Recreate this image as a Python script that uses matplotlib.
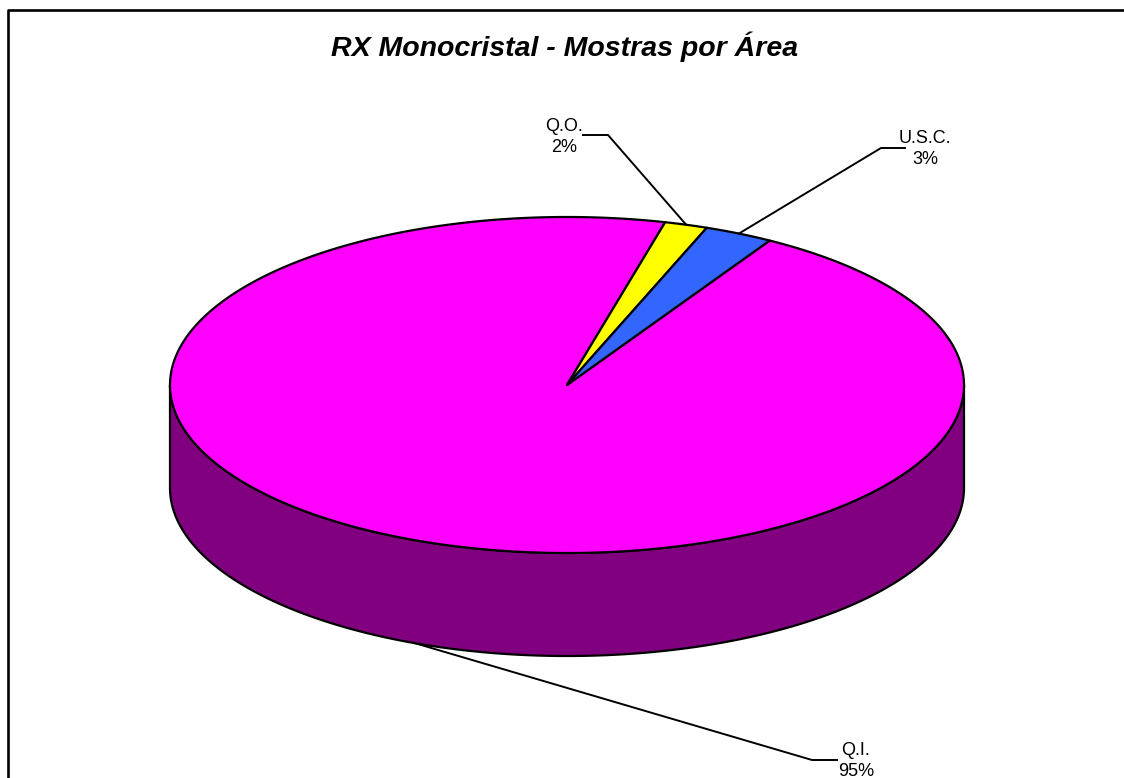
import numpy as np
import matplotlib
matplotlib.use("Agg")
import matplotlib.pyplot as plt
from matplotlib.patches import Polygon

# ---- data ----
categories = ["Q.I.", "Q.O.", "U.S.C."]
values = [95.45, 1.75, 2.8]
top_colors = ["#FF00FF", "#FFFF00", "#3366FF"]
side_colors = ["#800080", "#808000", "#1A3380"]
title = "RX Monocristal - Mostras por Área"

# ---- layout (pixel coordinates) ----
W, H = 1124, 778
cx, cy, a, b, depth = 567, 385, 397, 168, 103
start = 59.3  # first slice angle, clockwise

label_elbow = {"Q.I.": (812, 760), "Q.O.": (608, 135), "U.S.C.": (881, 148)}
label_hend = {"Q.I.": 837, "Q.O.": 583, "U.S.C.": 905}
label_text = {"Q.I.": (856, 761), "Q.O.": (564, 137), "U.S.C.": (925, 149)}

plt.rcParams['font.family'] = ['Liberation Sans', 'DejaVu Sans']

fig = plt.figure(figsize=(W / 100, H / 100), dpi=100)
ax = fig.add_axes([0, 0, 1, 1])
ax.set_xlim(0, W)
ax.set_ylim(H, 0)
ax.axis('off')


def pt(theta_deg, dz=0.0):
    t = np.radians(theta_deg)
    return cx + a * np.cos(t), cy - b * np.sin(t) + dz


def arc(t0, t1, dz=0.0, n=None):
    if n is None:
        n = max(int(abs(t1 - t0) * 2) + 2, 3)
    ts = np.linspace(t0, t1, n)
    xs, ys = pt(ts, dz)
    return np.column_stack([xs, ys])


fracs = np.array(values, dtype=float) / np.sum(values)
spans = fracs * 360.0
ends = start - np.cumsum(spans)
starts = ends + spans

lw = 1.6

# side walls (front half only)
for i in range(len(values)):
    for k in range(-2, 3):
        lo = max(ends[i], -180 + 360 * k)
        hi = min(starts[i], 360 * k)
        if lo < hi:
            top = arc(lo, hi)
            bot = arc(hi, lo, depth)
            poly = Polygon(np.vstack([top, bot]), closed=True,
                           facecolor=side_colors[i], edgecolor='black',
                           linewidth=lw, joinstyle='round', zorder=1)
            ax.add_patch(poly)

# top faces
for i in range(len(values)):
    pts = np.vstack([[cx, cy], arc(starts[i], ends[i])])
    poly = Polygon(pts, closed=True, facecolor=top_colors[i],
                   edgecolor='black', linewidth=lw, joinstyle='round',
                   zorder=2)
    ax.add_patch(poly)

# labels with leader lines
for i, cat in enumerate(categories):
    mid = (starts[i] + ends[i]) / 2.0
    dz = depth if np.sin(np.radians(mid)) < 0 else 0.0
    ax_, ay_ = pt(mid, dz)
    ex, ey = label_elbow[cat]
    hx = label_hend[cat]
    ax.plot([ax_, ex, hx], [ay_, ey, ey], color='black', lw=1.4,
            zorder=3, solid_joinstyle='miter')
    tx, ty = label_text[cat]
    ax.text(tx, ty, f"{cat}\n{round(fracs[i] * 100):.0f}%", ha='center',
            va='center', fontsize=13, linespacing=1.35, zorder=4)

# title
ax.text(565, 56, title, ha='center', va='baseline', fontsize=20.5,
        fontweight='bold', fontstyle='italic')

# chart frame (partly outside the image)
ax.plot([7.8, 7.8, W + 10], [H + 10, 9.5, 9.5], color='black', lw=1.9,
        zorder=5, clip_on=False)

fig.savefig("out.png", dpi=100)
